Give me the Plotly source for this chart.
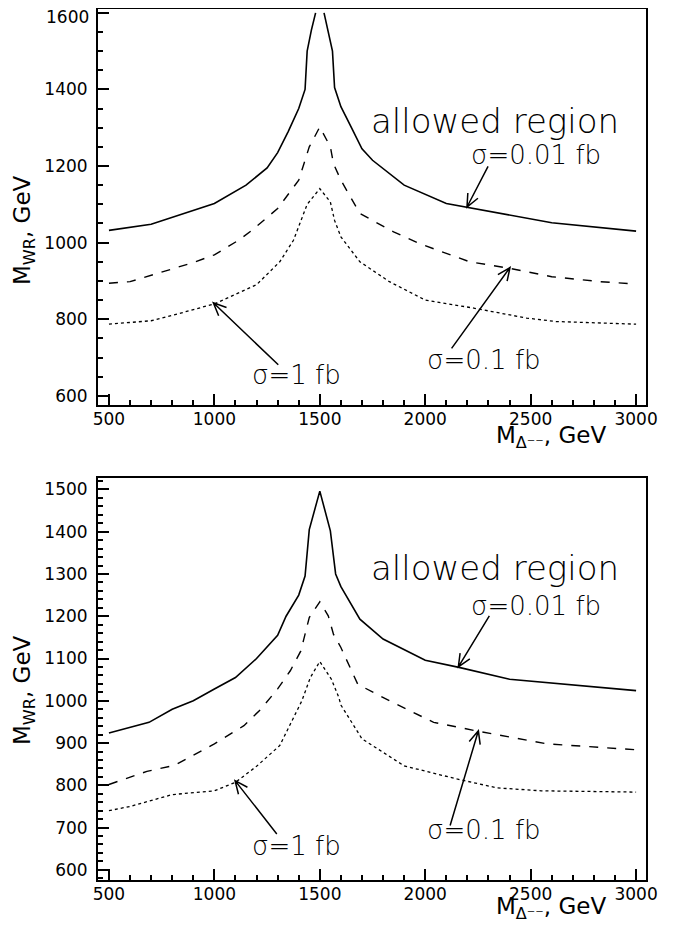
import math
import plotly.graph_objects as go

# ---------------- data ----------------
# top panel
top_solid_x = [500, 700, 1000, 1150, 1250, 1300, 1350, 1400, 1430, 1440, 1460, 1480, 1500, 1520, 1540, 1560, 1570, 1600, 1650, 1700, 1750, 1850, 1900, 2100, 2200, 2600, 3000]
top_solid_y = [1032, 1048, 1102, 1150, 1195, 1235, 1290, 1350, 1400, 1500, 1555, 1600, None, 1600, 1550, 1500, 1405, 1355, 1300, 1245, 1215, 1170, 1150, 1102, 1092, 1052, 1030]

top_dash_x = [500, 600, 900, 1000, 1120, 1180, 1300, 1400, 1450, 1500, 1550, 1565, 1600, 1690, 1850, 1975, 2210, 2400, 2600, 2830, 3000]
top_dash_y = [894, 898, 948, 968, 1008, 1033, 1089, 1163, 1250, 1302, 1250, 1206, 1163, 1076, 1028, 997, 950, 933, 911, 898, 892]

top_dot_x = [500, 700, 840, 1000, 1200, 1310, 1375, 1440, 1500, 1550, 1570, 1600, 1690, 1830, 2000, 2230, 2480, 2620, 3000]
top_dot_y = [787, 796, 816, 840, 890, 950, 1006, 1100, 1141, 1106, 1058, 1015, 950, 898, 850, 829, 803, 794, 787]

# bottom panel
bot_solid_x = [500, 690, 800, 900, 1000, 1100, 1200, 1300, 1340, 1400, 1430, 1450, 1500, 1550, 1575, 1600, 1690, 1800, 2000, 2160, 2400, 3000]
bot_solid_y = [924, 949, 980, 1000, 1028, 1055, 1100, 1155, 1200, 1250, 1295, 1405, 1496, 1402, 1300, 1270, 1193, 1146, 1096, 1079, 1051, 1024]

bot_dash_x = [500, 680, 810, 1000, 1140, 1220, 1300, 1360, 1410, 1450, 1500, 1540, 1565, 1600, 1680, 1830, 2040, 2250, 2580, 3000]
bot_dash_y = [802, 833, 847, 898, 941, 980, 1028, 1071, 1118, 1197, 1234, 1201, 1157, 1126, 1039, 1000, 949, 928, 898, 884]

bot_dot_x = [500, 600, 800, 1000, 1100, 1200, 1310, 1375, 1415, 1455, 1500, 1555, 1590, 1600, 1700, 1900, 2150, 2340, 2550, 3000]
bot_dot_y = [740, 750, 778, 787, 807, 845, 894, 961, 1000, 1055, 1093, 1051, 1008, 990, 910, 846, 815, 794, 787, 784]

# axis ranges and tick labels
x_range = [448, 3047]
top_y_range = [576, 1610]
bot_y_range = [576, 1527]
top_y_ticks = [600, 800, 1000, 1200, 1400, 1600]
bot_y_ticks = [600, 700, 800, 900, 1000, 1100, 1200, 1300, 1400, 1500]

# annotation anchors (data units)
label_texts = ["σ=0.01 fb", "σ=0.1 fb", "σ=1 fb"]
top_label_x = [2523, 2281, 1389]
top_label_y = [1230, 694, 654]
bot_label_x = [2523, 2281, 1389]
bot_label_y = [1224, 695, 657]
top_tip_x = [2198, 2402, 995]
top_tip_y = [1093, 935, 843]
top_tail_x = [2298, 2125, 1303]
top_tail_y = [1199, 724, 681]
bot_tip_x = [2157, 2252, 1098]
bot_tip_y = [1080, 929, 811]
bot_tail_x = [2304, 2118, 1296]
bot_tail_y = [1201, 705, 685]
region_text = "allowed region"
top_region_xy = (2331, 1318)
bot_region_xy = (2331, 1315)

# ---------------- layout geometry (page pixels) ----------------
OFF = 8                      # default page margin of the html body
W, H = 681 - 2 * OFF, 931 - 2 * OFF
px_left, px_right = 98, 646
top_px = (9, 405)
bot_px = (478, 880)

def fx(px):
    return (px - OFF) / W

def fy(py):
    return min(1.0, max(0.0, 1 - (py - OFF) / H))

fig = go.Figure()

line_styles = [("solid", 1.6), ("dash", 1.4), ("dot", 1.3)]

def add_panel(xs, ys, xa, ya):
    for (xv, yv), (dash, w) in zip(zip(xs, ys), line_styles):
        fig.add_trace(go.Scatter(x=xv, y=yv, mode="lines", xaxis=xa, yaxis=ya,
                                 line=dict(color="black", width=w, dash=dash),
                                 connectgaps=False, showlegend=False, hoverinfo="skip"))

add_panel([top_solid_x, top_dash_x, top_dot_x], [top_solid_y, top_dash_y, top_dot_y], "x", "y")
add_panel([bot_solid_x, bot_dash_x, bot_dot_x], [bot_solid_y, bot_dash_y, bot_dot_y], "x2", "y2")

tickfont = dict(family="DejaVu Sans", size=17, color="black")
common_x = dict(range=x_range, domain=[fx(px_left), fx(px_right)], showgrid=False, zeroline=False,
                showline=True, linecolor="black", linewidth=2, mirror=True, automargin=False,
                tick0=500, dtick=500, ticks="inside", ticklen=11, tickwidth=1.5, tickcolor="black",
                minor=dict(dtick=100, tick0=500, ticks="inside", ticklen=5, tickwidth=1.5, tickcolor="black"),
                tickfont=tickfont, ticklabelstandoff=-2, ticklabeloverflow="allow")
common_y = dict(showgrid=False, zeroline=False, showline=True, linecolor="black", linewidth=2, mirror=True,
                automargin=False, ticks="inside", ticklen=11, tickwidth=1.5, tickcolor="black",
                tickfont=tickfont, ticklabelstandoff=5, ticklabeloverflow="allow")

# the top label of the upper panel sits above the page's drawable area, so it
# is drawn as an annotation nudged slightly down
top_ticktext = [str(v) for v in top_y_ticks[:-1]] + [""]

fig.update_layout(
    width=W, height=H, margin=dict(l=0, r=0, t=0, b=0, autoexpand=False),
    plot_bgcolor="white", paper_bgcolor="white",
    xaxis=dict(common_x, anchor="y"),
    yaxis=dict(common_y, range=top_y_range, domain=[fy(top_px[1]), fy(top_px[0])],
               tickvals=top_y_ticks, ticktext=top_ticktext, anchor="x",
               minor=dict(dtick=50, tick0=600, ticks="inside", ticklen=5, tickwidth=1.5, tickcolor="black")),
    xaxis2=dict(common_x, anchor="y2"),
    yaxis2=dict(common_y, range=bot_y_range, domain=[fy(bot_px[1]), fy(bot_px[0])],
                tickvals=bot_y_ticks, ticktext=[str(v) for v in bot_y_ticks], anchor="x2",
                minor=dict(dtick=20, tick0=600, ticks="inside", ticklen=5, tickwidth=1.5, tickcolor="black")),
)

textfont = dict(family="DejaVu Sans", weight=200, color="black")
titlefont = dict(family="DejaVu Sans", size=23, color="black")

def d2p(x, y, yr, pb):
    px = px_left + (x - x_range[0]) / (x_range[1] - x_range[0]) * (px_right - px_left)
    py = pb[1] - (y - yr[0]) / (yr[1] - yr[0]) * (pb[1] - pb[0])
    return px, py

def p2d(px, py, yr, pb):
    x = x_range[0] + (px - px_left) / (px_right - px_left) * (x_range[1] - x_range[0])
    y = yr[0] + (pb[1] - py) / (pb[1] - pb[0]) * (yr[1] - yr[0])
    return x, y

shapes = []
annotations = []

def panel_decor(xa, ya, yr, pb, lx, ly, tx, ty, sx, sy, region_xy, ytitle_py, xtitle_py):
    for t, x, y in zip(label_texts, lx, ly):
        annotations.append(dict(x=x, y=y, xref=xa, yref=ya, text=t, showarrow=False,
                                font=dict(textfont, size=26), xanchor="center", yanchor="middle"))
    annotations.append(dict(x=region_xy[0], y=region_xy[1], xref=xa, yref=ya, text=region_text,
                            showarrow=False, font=dict(textfont, size=34),
                            xanchor="center", yanchor="middle"))
    for x0, y0, x1, y1 in zip(tx, ty, sx, sy):
        tpx, tpy = d2p(x0, y0, yr, pb)
        spx, spy = d2p(x1, y1, yr, pb)
        dx, dy = spx - tpx, spy - tpy
        n = math.hypot(dx, dy)
        ux, uy = dx / n, dy / n
        L, a = 14, math.radians(24)
        heads = []
        for s in (1, -1):
            hx = tpx + L * (ux * math.cos(s * a) - uy * math.sin(s * a))
            hy = tpy + L * (ux * math.sin(s * a) + uy * math.cos(s * a))
            heads.append(p2d(hx, hy, yr, pb))
        path = (f"M {x1},{y1} L {x0},{y0} "
                f"M {heads[0][0]},{heads[0][1]} L {x0},{y0} L {heads[1][0]},{heads[1][1]}")
        shapes.append(dict(type="path", path=path, xref=xa, yref=ya,
                           line=dict(color="black", width=1.5)))
    annotations.append(dict(x=fx(24), y=fy(ytitle_py), xref="paper", yref="paper",
                            text="M<sub>WR</sub>, GeV", textangle=-90, showarrow=False,
                            font=titlefont, xanchor="center", yanchor="middle"))
    annotations.append(dict(x=fx(608), y=fy(xtitle_py), xref="paper", yref="paper",
                            text="M<sub>Δ⁻⁻</sub>, GeV", showarrow=False,
                            font=titlefont, xanchor="right", yanchor="middle"))

panel_decor("x", "y", top_y_range, top_px, top_label_x, top_label_y,
            top_tip_x, top_tip_y, top_tail_x, top_tail_y, top_region_xy, 230, 437)
panel_decor("x2", "y2", bot_y_range, bot_px, bot_label_x, bot_label_y,
            bot_tip_x, bot_tip_y, bot_tail_x, bot_tail_y, bot_region_xy, 690, 908)

annotations.append(dict(x=fx(91), y=top_y_ticks[-1], xref="paper", yref="y",
                        text=str(top_y_ticks[-1]), showarrow=False, font=tickfont,
                        xanchor="right", yanchor="middle", yshift=-4))

fig.update_layout(shapes=shapes, annotations=annotations)
fig.write_html("out.html")
